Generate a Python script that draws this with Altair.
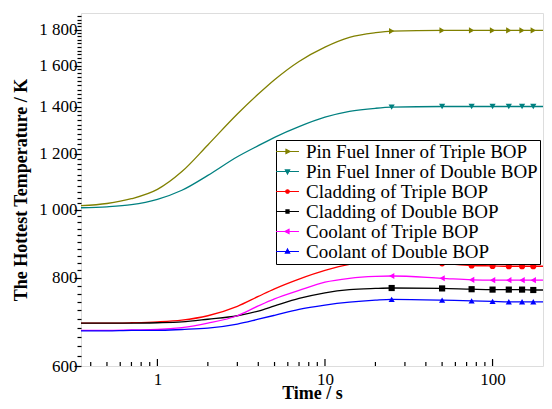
import altair as alt
import pandas as pd

# ---- data ----
time_s = [0.35, 0.5, 0.7, 1, 1.4, 2, 3, 4, 5, 7, 10, 14, 20, 25, 50, 75, 100, 125, 150, 175, 200]
fuel_triple = [1013, 1020, 1036, 1068, 1132, 1235, 1366, 1458, 1528, 1622, 1700, 1755, 1782, 1791, 1795, 1795, 1795, 1795, 1795, 1795, 1795]
fuel_double = [1006, 1009, 1016, 1034, 1065, 1118, 1188, 1232, 1266, 1311, 1352, 1378, 1392, 1397, 1400, 1400, 1400, 1400, 1400, 1400, 1400]
clad_triple = [690, 690, 691, 693, 697, 707, 729, 753, 772, 797, 820, 836, 842, 843, 839, 833, 832, 831, 831, 831, 831]
clad_double = [690, 690, 690, 691, 693, 699, 707, 718, 730, 748, 762, 770, 773, 774, 773, 771, 770, 770, 770, 769, 769]
cool_triple = [674, 674, 675, 676, 680, 690, 707, 730, 747, 768, 789, 799, 804, 805, 799, 795, 794, 794, 794, 794, 794]
cool_double = [673, 673, 674, 674, 676, 679, 688, 699, 708, 722, 732, 739, 744, 746, 744, 742, 741, 740, 740, 740, 740]

marker_times = [25, 50, 75, 100, 125, 150, 175]

series_names = [
    "Pin Fuel Inner of Triple BOP",
    "Pin Fuel Inner of Double BOP",
    "Cladding of Triple BOP",
    "Cladding of Double BOP",
    "Coolant of Triple BOP",
    "Coolant of Double BOP",
]
series_values = [fuel_triple, fuel_double, clad_triple, clad_double, cool_triple, cool_double]
series_colors = ["#808000", "#008080", "#ff0000", "#000000", "#ff00ff", "#0000ff"]
marker_shapes = ["triangle-right", "triangle-down", "circle", "square", "triangle-left", "triangle-up"]

x_major_ticks = [1, 10, 100]
x_minor_ticks = [0.4, 0.5, 0.6, 0.7, 0.8, 0.9, 2, 3, 4, 5, 6, 7, 8, 9, 20, 30, 40, 50, 60, 70, 80, 90]
y_tick_values = list(range(600, 1900, 20))

# legend symbols: short line with the marker in the middle
marker_paths = [
    "M-0.18,-0.25L0.3,0L-0.18,0.25Z",
    "M-0.25,-0.18L0.25,-0.18L0,0.3Z",
    "M0.2,0A0.2,0.2 0 1,1 -0.2,0A0.2,0.2 0 1,1 0.2,0Z",
    "M-0.18,-0.18L0.18,-0.18L0.18,0.18L-0.18,0.18Z",
    "M0.18,-0.25L-0.3,0L0.18,0.25Z",
    "M-0.25,0.18L0.25,0.18L0,-0.3Z",
]
legend_paths = ["M-1.35,0L1.35,0" + p for p in marker_paths]

rows = []
for name, vals in zip(series_names, series_values):
    for t, v in zip(time_s, vals):
        rows.append({"series": name, "t": t, "T": v})
df = pd.DataFrame(rows)
df_markers = df[df["t"].isin(marker_times)]

W, H = 462, 353
FONT = "Liberation Serif"

xscale = alt.Scale(type="log", domain=[0.35, 200], nice=False)
yscale = alt.Scale(type="log", domain=[600, 1900], nice=False)

x_enc = alt.X(
    "t:Q", scale=xscale,
    axis=alt.Axis(values=x_major_ticks, ticks=False, domain=False, grid=False,
                  title="Time / s", labelFont=FONT, labelFontSize=17, labelPadding=5,
                  titleFont=FONT, titleFontSize=18, titleFontWeight="bold",
                  titleY=32, titleBaseline="alphabetic",
                  labelColor="black", titleColor="black", labelFlush=False),
)
y_enc = alt.Y(
    "T:Q", scale=yscale,
    axis=alt.Axis(values=y_tick_values, domain=False, grid=False,
                  tickColor="black", tickWidth=1.2,
                  tickSize={"condition": {"test": "datum.value % 200 === 0", "value": 7}, "value": 4},
                  labelExpr="datum.value % 200 === 0 ? replace(format(datum.value, ','), ',', ' ') : ''",
                  labelFont=FONT, labelFontSize=17, labelPadding=-3, labelColor="black",
                  title="The Hottest Temperature / K", titleFont=FONT, titleFontSize=18,
                  titleFontWeight="bold", titleColor="black", titlePadding=8),
)

color_scale = alt.Scale(domain=series_names, range=series_colors)

lines = alt.Chart(df).mark_line(strokeWidth=1.3, interpolate="monotone").encode(
    x=x_enc, y=y_enc,
    color=alt.Color("series:N", scale=color_scale, legend=None),
    detail="series:N",
)

points = alt.Chart(df_markers).mark_point(filled=True, size=38, opacity=1).encode(
    x=alt.X("t:Q", scale=xscale),
    y=alt.Y("T:Q", scale=yscale),
    color=alt.Color("series:N", scale=color_scale, legend=None),
    shape=alt.Shape("series:N", scale=alt.Scale(domain=series_names, range=marker_shapes), legend=None),
)

leg = alt.Legend(
    orient="none", legendX=195, legendY=127, title=None, direction="vertical",
    labelFont=FONT, labelFontSize=19, labelColor="black", labelLimit=0, labelOffset=9,
    symbolSize=289, symbolStrokeWidth=1.2, rowPadding=-2, padding=2,
    strokeColor="black", fillColor="white",
)
legend_layer = alt.Chart(df).transform_filter("datum.t < 0").mark_point(
    filled=True, strokeWidth=1.2, opacity=1
).encode(
    x=alt.X("t:Q", scale=xscale),
    y=alt.Y("T:Q", scale=yscale),
    fill=alt.Fill("series:N", scale=alt.Scale(domain=series_names, range=series_colors), legend=leg),
    stroke=alt.Stroke("series:N", scale=alt.Scale(domain=series_names, range=series_colors), legend=leg),
    shape=alt.Shape("series:N", scale=alt.Scale(domain=series_names, range=legend_paths), legend=leg),
)

tick_major = alt.Chart(pd.DataFrame({"t": x_major_ticks})).mark_rule(color="black", strokeWidth=1.2).encode(
    x=alt.X("t:Q", scale=xscale), y=alt.value(H), y2=alt.value(H - 7)
)
tick_minor = alt.Chart(pd.DataFrame({"t": x_minor_ticks})).mark_rule(color="black", strokeWidth=1.2).encode(
    x=alt.X("t:Q", scale=xscale), y=alt.value(H), y2=alt.value(H - 4)
)

chart = alt.layer(lines, points, tick_major, tick_minor, legend_layer).resolve_scale(
    shape="independent", fill="independent", stroke="independent"
).properties(
    width=W, height=H,
    autosize=alt.AutoSizeParams(type="none"),
    padding={"left": 73, "top": 5, "right": 1, "bottom": 35},
).configure_view(
    stroke="black", strokeWidth=1.6
).configure(background="white")

chart.save("out.html", embed_options={"renderer": "svg", "actions": False})
